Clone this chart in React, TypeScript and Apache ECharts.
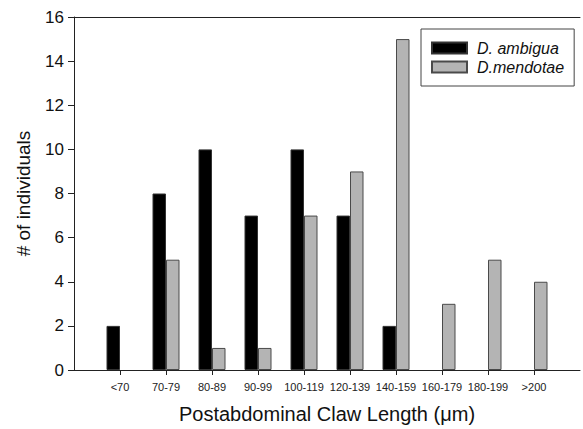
import React, { useEffect, useRef } from "react";
import * as echarts from "echarts";

const categories = ["<70", "70-79", "80-89", "90-99", "100-119", "120-139", "140-159", "160-179", "180-199", ">200"];
const ambigua = [2, 8, 10, 7, 10, 7, 2, 0, 0, 0];
const mendotae = [0, 5, 1, 1, 7, 9, 15, 3, 5, 4];
const yTicks = { min: 0, max: 16, interval: 2 };

export default function App() {
  const ref = useRef<HTMLDivElement>(null);
  useEffect(() => {
    if (!ref.current) return;
    const chart = echarts.init(ref.current, null, { renderer: "svg" });
    const axisCats = ["", ...categories, ""];
    // zero-count bars are not drawn (avoid stroke artefacts at the baseline)
    const pad = (arr: number[]) => [null, ...arr.map((v) => (v === 0 ? null : v)), null];
    const font = "Liberation Sans, Arial, sans-serif";
    chart.setOption({
      animation: false,
      backgroundColor: "#ffffff",
      textStyle: { fontFamily: font },
      grid: { left: 74, right: 0, top: 17, bottom: 56 },
      legend: {
        orient: "vertical",
        left: 421,
        top: 29,
        padding: [11, 10, 11, 10],
        itemGap: 3,
        itemWidth: 35,
        itemHeight: 11,
        icon: "rect",
        borderColor: "#444",
        borderWidth: 1,
        textStyle: { fontFamily: font, fontSize: 16, fontStyle: "italic", color: "#111", padding: [0, 0, 0, 5] },
        data: ["D. ambigua", "D.mendotae"],
      },
      xAxis: [
        {
          type: "category",
          data: axisCats,
          boundaryGap: false,
          name: "Postabdominal Claw Length (μm)",
          nameLocation: "middle",
          nameGap: 34,
          nameTextStyle: { fontFamily: font, fontSize: 20, color: "#111" },
          axisLine: { show: true, lineStyle: { color: "#222", width: 1 } },
          axisTick: { show: true, length: 5, interval: (_i: number, v: string) => v !== "", lineStyle: { color: "#222" } },
          axisLabel: { interval: 0, margin: 11, fontSize: 11, color: "#222", fontFamily: font },
          splitLine: { show: false },
        },
        {
          type: "category",
          data: axisCats,
          boundaryGap: false,
          position: "top",
          axisLine: { show: true, lineStyle: { color: "#222", width: 1 } },
          axisTick: { show: false },
          axisLabel: { show: false },
          splitLine: { show: false },
        },
      ],
      yAxis: {
        type: "value",
        min: yTicks.min,
        max: yTicks.max,
        interval: yTicks.interval,
        name: "# of individuals",
        nameLocation: "middle",
        nameGap: 41,
        nameTextStyle: { fontFamily: font, fontSize: 19, color: "#111" },
        axisLine: { show: true, lineStyle: { color: "#222", width: 1 } },
        axisTick: { show: true, length: 6, lineStyle: { color: "#222" } },
        axisLabel: { margin: 10, fontSize: 17, color: "#111", fontFamily: font },
        splitLine: { show: false },
      },
      series: [
        {
          name: "D. ambigua",
          type: "bar",
          data: pad(ambigua),
          barWidth: 13.5,
          barGap: "0%",
          itemStyle: { color: "#000000", borderColor: "#333", borderWidth: 1 },
        },
        {
          name: "D.mendotae",
          type: "bar",
          data: pad(mendotae),
          barWidth: 13.5,
          barGap: "0%",
          itemStyle: { color: "#b4b4b4", borderColor: "#4a4a4a", borderWidth: 1 },
        },
      ],
    });
    return () => chart.dispose();
  }, []);
  return <div ref={ref} style={{ position: "fixed", left: 0, top: 0, width: 583, height: 429 }} />;
}
